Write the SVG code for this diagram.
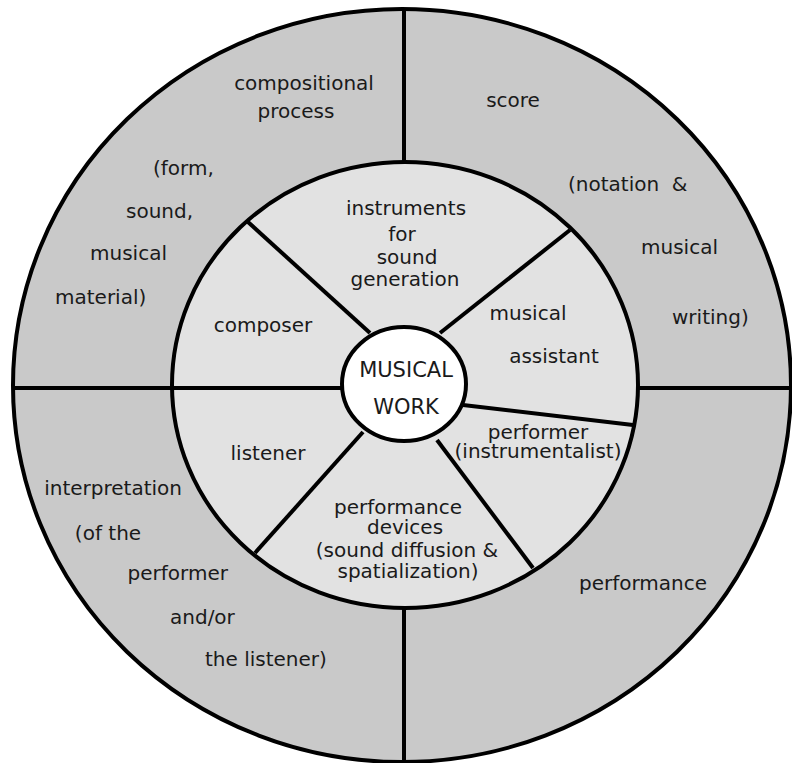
<svg xmlns="http://www.w3.org/2000/svg" width="792" height="763" viewBox="0 0 792 763">
<style>
.bg{stroke:none}
.rim{fill:none;stroke:#000;stroke-width:4}
.ln{stroke:#000;stroke-width:4;stroke-linecap:butt}
text{font-family:"DejaVu Sans","Verdana",sans-serif;font-size:20px;fill:#1a1a1a}
.c{text-anchor:middle}
.s{text-anchor:start}
.e{text-anchor:end}
</style>
<rect width="792" height="763" fill="#ffffff"/>
<g id="rings">
<ellipse class="bg" cx="402" cy="385.5" rx="389" ry="376.5" fill="#c9c9c9"/>
<ellipse class="bg" cx="405" cy="385" rx="233" ry="223" fill="#e2e2e2"/>
<ellipse class="bg" cx="404" cy="384" rx="62" ry="57" fill="#ffffff"/>
</g>
<g id="connectors">
<line class="ln" x1="404" y1="9" x2="404" y2="162"/>
<line class="ln" x1="404" y1="608" x2="404" y2="762"/>
<line class="ln" x1="13" y1="388" x2="172" y2="388"/>
<line class="ln" x1="638" y1="388" x2="792" y2="388"/>
<line class="ln" x1="172" y1="388" x2="342" y2="388"/>
<line class="ln" x1="248" y1="222" x2="370" y2="333"/>
<line class="ln" x1="570" y1="230" x2="440" y2="333"/>
<line class="ln" x1="633" y1="425" x2="463" y2="405"/>
<line class="ln" x1="533" y1="568" x2="437" y2="440"/>
<line class="ln" x1="255" y1="553" x2="363" y2="432"/>
</g>
<g id="outlines">
<ellipse class="rim" cx="402" cy="385.5" rx="389" ry="376.5"/>
<ellipse class="rim" cx="405" cy="385" rx="233" ry="223"/>
<ellipse class="rim" cx="404" cy="384" rx="62" ry="57"/>
</g>
<g id="musical-work">
<text class="c" x="406" y="377" style="font-size:21px">MUSICAL</text>
<text class="c" x="406" y="414" style="font-size:21px">WORK</text>
</g>
<g id="instruments">
<text class="c" x="406" y="215">instruments</text>
<text class="c" x="402" y="241">for</text>
<text class="c" x="407" y="264">sound</text>
<text class="c" x="405" y="286">generation</text>
</g>
<g id="composer">
<text class="c" x="263" y="332">composer</text>
</g>
<g id="listener">
<text class="c" x="268" y="460">listener</text>
</g>
<g id="musical-assistant">
<text class="c" x="528" y="320">musical</text>
<text class="c" x="554" y="363">assistant</text>
</g>
<g id="performer">
<text class="c" x="538" y="439">performer</text>
<text class="c" x="538" y="458">(instrumentalist)</text>
</g>
<g id="performance-devices">
<text class="c" x="398" y="514">performance</text>
<text class="c" x="405" y="534">devices</text>
<text class="c" x="407" y="557">(sound diffusion &amp;</text>
<text class="c" x="408" y="578">spatialization)</text>
</g>
<g id="compositional-process">
<text class="c" x="304" y="90">compositional</text>
<text class="c" x="296" y="118">process</text>
<text class="s" x="153" y="175">(form,</text>
<text class="s" x="126" y="218">sound,</text>
<text class="s" x="90" y="260">musical</text>
<text class="s" x="55" y="304">material)</text>
</g>
<g id="score">
<text class="c" x="513" y="107">score</text>
<text class="s" x="568" y="191" xml:space="preserve">(notation  &amp;</text>
<text class="s" x="641" y="254">musical</text>
<text class="s" x="672" y="324">writing)</text>
</g>
<g id="interpretation">
<text class="e" x="182" y="495">interpretation</text>
<text class="c" x="108" y="540">(of the</text>
<text class="e" x="228" y="580">performer</text>
<text class="s" x="170" y="624">and/or</text>
<text class="s" x="205" y="666">the listener)</text>
</g>
<g id="performance">
<text class="s" x="579" y="590">performance</text>
</g>
</svg>
